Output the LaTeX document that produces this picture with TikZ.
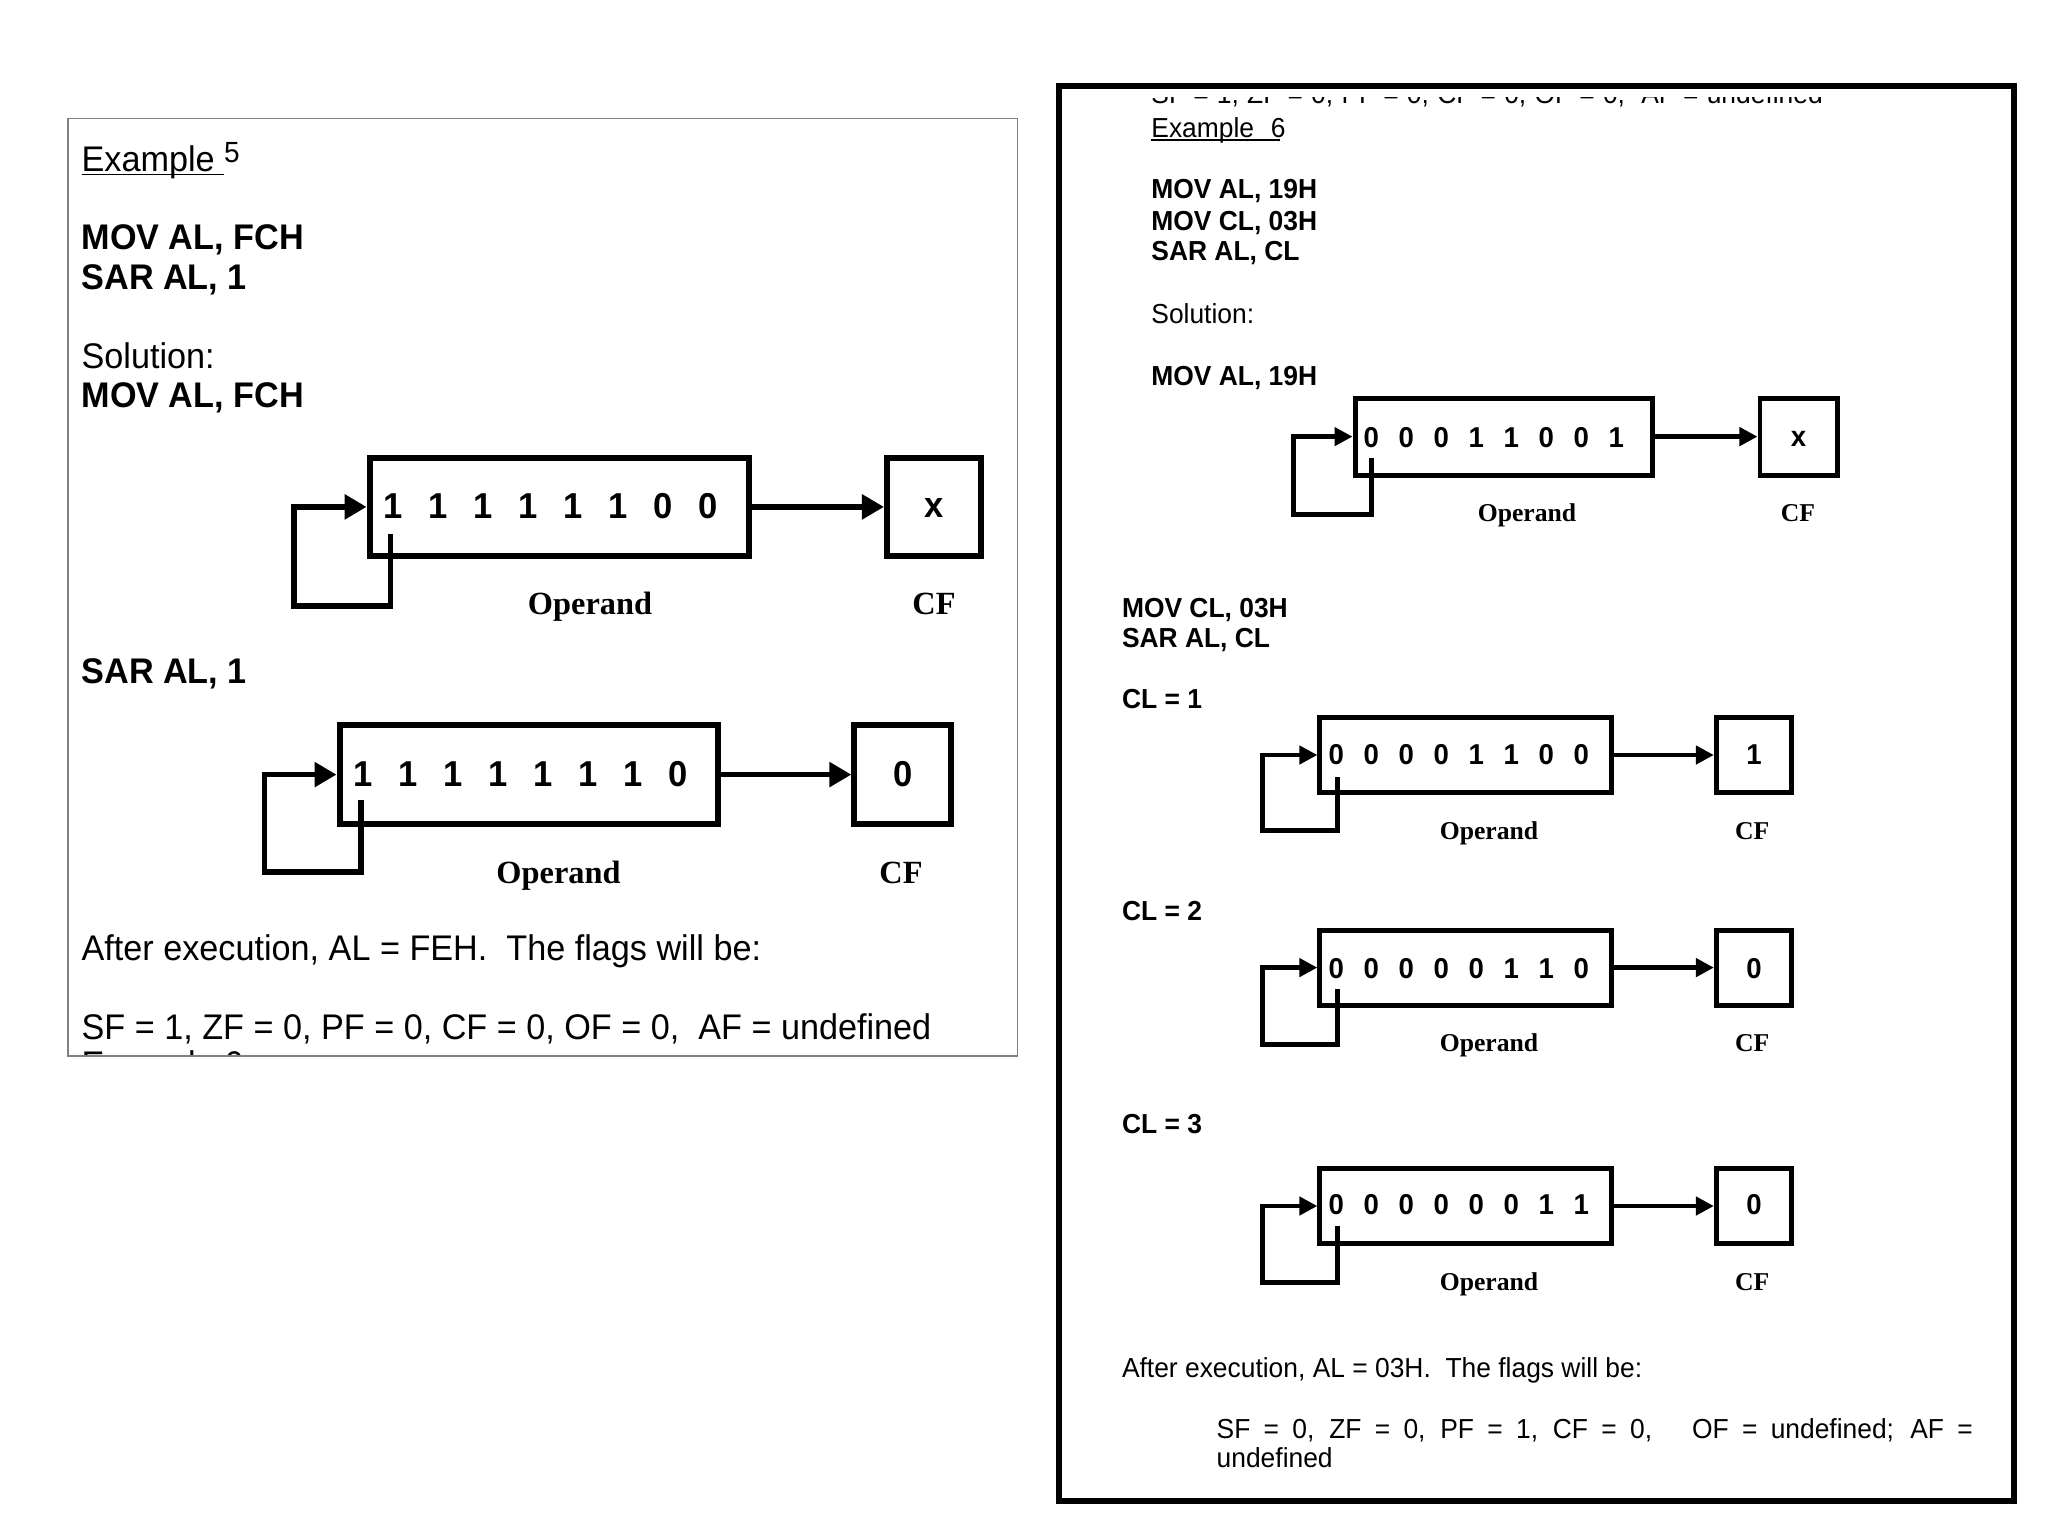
\documentclass[tikz,border=0pt]{standalone}
\usepackage{fontspec}
\setmainfont{Liberation Sans}[FakeStretch=0.96]
\newfontfamily\tnr{Liberation Serif}
\usetikzlibrary{arrows.meta}

\newcommand\fL{\fontsize{10.13pt}{12pt}\selectfont}
\newcommand\fR{\fontsize{7.82pt}{9.5pt}\selectfont}
\newcommand\fbL{\fontsize{10.24pt}{12pt}\selectfont\bfseries}
\newcommand\fbR{\fontsize{8.17pt}{10pt}\selectfont\bfseries}
\newcommand\bitsL[8]{\makebox[12.8pt]{#1}\makebox[12.8pt]{#2}\makebox[12.8pt]{#3}\makebox[12.8pt]{#4}\makebox[12.8pt]{#5}\makebox[12.8pt]{#6}\makebox[12.8pt]{#7}\makebox[12.8pt]{#8}}
\newcommand\bitsR[8]{\makebox[9.96pt]{#1}\makebox[9.96pt]{#2}\makebox[9.96pt]{#3}\makebox[9.96pt]{#4}\makebox[9.96pt]{#5}\makebox[9.96pt]{#6}\makebox[9.96pt]{#7}\makebox[9.96pt]{#8}}
\newcommand\myul[1]{\setbox0\hbox{#1}\rlap{\rule[-1.1pt]{\wd0}{0.42pt}}\box0}

\tikzset{
  txt/.style={anchor=base west, inner sep=0pt, outer sep=0pt},
  regL/.style={draw, line width=1.7pt, inner sep=0pt, minimum height=0.975cm},
  regR/.style={draw, line width=1.42pt, inner sep=0pt},
  bitL/.style={anchor=base west, inner sep=0pt, font=\fbL},
  bitR/.style={anchor=base west, inner sep=0pt, font=\fbR},
  cfvL/.style={anchor=base, inner sep=0pt, font=\fbL},
  cfvR/.style={anchor=base, inner sep=0pt, font=\fbR},
  lblL/.style={anchor=base, inner sep=0pt, font=\fontsize{9.2pt}{11pt}\selectfont\tnr\bfseries},
  lblR/.style={anchor=base, inner sep=0pt, font=\fontsize{7.3pt}{9pt}\selectfont\tnr\bfseries},
  conL/.style={line width=1.6pt, -{Triangle[length=0.22cm,width=0.24cm]}},
  conR/.style={line width=1.35pt, -{Triangle[length=0.18cm,width=0.18cm]}},
}

\begin{document}
\begin{tikzpicture}[x=0.01cm, y=-0.01cm]
\useasboundingbox (0,0) rectangle (2048,1536);

% ================= LEFT PANEL =================
\begin{scope}
  \clip (69,1000) rectangle (1016,1055.3);
  \node[txt] (lclip) at (81.6,1076) {\fL Example 6};
\end{scope}
\draw[black!50, line width=0.42pt] (68,118.5) rectangle (1017.5,1056);

\node[txt] (ex5) at (81.6,171.4) {\fL\myul{Example\ }\raisebox{2.4pt}{\fontsize{8.3pt}{10pt}\selectfont 5}};
\node[txt] (l1) at (81.6,249.8) {\fL\bfseries MOV AL, FCH};
\node[txt] (l2) at (81.6,289) {\fL\bfseries SAR AL, 1};
\node[txt] (l3) at (81.6,368.3) {\fL Solution:};
\node[txt] (l4) at (81.6,407.4) {\fL\bfseries MOV AL, FCH};

% diagram 1
\node[regL, minimum width=3.788cm] (op1) at (559.1,506.9) {};
\node[regL, minimum width=0.94cm] (cf1) at (934,506.9) {};
\node[bitL] (b1) at (369.7,518) {\bitsL 11111100};
\node[cfvL] (v1) at (934,517.5) {x};
\node[lblL] (o1) at (590,614.6) {Operand};
\node[lblL] (c1) at (934,614.6) {CF};
\draw[conL] (op1.east) -- (cf1.west);
\coordinate (s1) at (390.6,534);
\coordinate (k1) at (294,605.8);
\draw[conL] (s1) |- (k1) |- (op1.west);

\node[txt] (l5) at (81.6,683) {\fL\bfseries SAR AL, 1};

% diagram 2
\node[regL, minimum width=3.783cm, minimum height=0.985cm] (op2) at (528.8,774.6) {};
\node[regL, minimum width=0.966cm, minimum height=0.985cm] (cf2) at (902.7,774.6) {};
\node[bitL] (b2) at (339.6,786) {\bitsL 11111110};
\node[cfvL] (v2) at (902.7,786) {0};
\node[lblL] (o2) at (558.5,883) {Operand};
\node[lblL] (c2) at (901,883) {CF};
\draw[conL] (op2.east) -- (cf2.west);
\coordinate (s2) at (361.2,800);
\coordinate (k2) at (264.5,871.8);
\draw[conL] (s2) |- (k2) |- (op2.west);

\node[txt] (l6) at (81.6,960.5) {\fL After execution, AL = FEH.\ \ The flags will be:};
\node[txt] (l7) at (81.6,1039.8) {\fL SF = 1, ZF = 0, PF = 0, CF = 0, OF = 0,\ \ AF = undefined};

% ================= RIGHT PANEL =================
\begin{scope}
  \clip (1062,97.5) rectangle (2010,125);
  \node[txt] (rclip) at (1151.4,103) {\fR\makebox[190.9pt][s]{SF = 1, ZF = 0, PF = 0, CF = 0, OF = 0,\ \ AF = undefined}};
\end{scope}
\draw[line width=1.7pt] (1058.6,86.2) rectangle (2013.6,1500.6);

\node[txt] (ex6) at (1151.4,137) {\fR\rlap{\rule[-1.1pt]{36.7pt}{0.4pt}}\makebox[34pt][l]{Example}6};
\node[txt] (r1) at (1151.4,198.3) {\fR\bfseries MOV AL, 19H};
\node[txt] (r2) at (1151.4,230.2) {\fR\bfseries MOV CL, 03H};
\node[txt] (r3) at (1151.4,260.5) {\fR\bfseries SAR AL, CL};
\node[txt] (r4) at (1151.4,323.2) {\fR Solution:};
\node[txt] (r5) at (1151.4,385.4) {\fR\bfseries MOV AL, 19H};

% diagram R1
\node[regR, minimum width=2.972cm, minimum height=0.769cm] (op3) at (1503.7,436.6) {};
\node[regR, minimum width=0.77cm, minimum height=0.769cm] (cf3) at (1798.5,436.6) {};
\node[bitR] (b3) at (1353,447) {\bitsR 00011001};
\node[cfvR] (v3) at (1798.5,446.5) {x};
\node[lblR] (o3) at (1527,521.5) {Operand};
\node[lblR] (c3) at (1798,521.5) {CF};
\draw[conR] (op3.east) -- (cf3.west);
\coordinate (s3) at (1371.5,458);
\coordinate (k3) at (1293.8,514.2);
\draw[conR] (s3) |- (k3) |- (op3.west);

\node[txt] (r6) at (1122,617) {\fR\bfseries MOV CL, 03H};
\node[txt] (r7) at (1122,647.5) {\fR\bfseries SAR AL, CL};
\node[txt] (r8) at (1122,708.6) {\fR\bfseries CL = 1};

% diagram R2
\node[regR, minimum width=2.919cm, minimum height=0.75cm] (op4) at (1465.9,755) {};
\node[regR, minimum width=0.75cm, minimum height=0.75cm] (cf4) at (1753.9,755) {};
\node[bitR] (b4) at (1318,764) {\bitsR 00001100};
\node[cfvR] (v4) at (1753.9,764) {1};
\node[lblR] (o4) at (1489,839) {Operand};
\node[lblR] (c4) at (1752.3,839) {CF};
\draw[conR] (op4.east) -- (cf4.west);
\coordinate (s4) at (1337.5,777);
\coordinate (k4) at (1262.4,830.7);
\draw[conR] (s4) |- (k4) |- (op4.west);

\node[txt] (r9) at (1122,920.8) {\fR\bfseries CL = 2};

% diagram R3
\node[regR, minimum width=2.919cm, minimum height=0.75cm] (op5) at (1465.9,967.6) {};
\node[regR, minimum width=0.75cm, minimum height=0.75cm] (cf5) at (1753.9,967.6) {};
\node[bitR] (b5) at (1318,978) {\bitsR 00000110};
\node[cfvR] (v5) at (1753.9,978) {0};
\node[lblR] (o5) at (1489,1051) {Operand};
\node[lblR] (c5) at (1752.3,1051) {CF};
\draw[conR] (op5.east) -- (cf5.west);
\coordinate (s5) at (1337.5,989.4);
\coordinate (k5) at (1262.4,1044.7);
\draw[conR] (s5) |- (k5) |- (op5.west);

\node[txt] (r10) at (1122,1133.8) {\fR\bfseries CL = 3};

% diagram R4
\node[regR, minimum width=2.919cm, minimum height=0.75cm] (op6) at (1465.9,1206) {};
\node[regR, minimum width=0.75cm, minimum height=0.75cm] (cf6) at (1753.9,1206) {};
\node[bitR] (b6) at (1318,1214) {\bitsR 00000011};
\node[cfvR] (v6) at (1753.9,1214) {0};
\node[lblR] (o6) at (1489,1290) {Operand};
\node[lblR] (c6) at (1752.3,1290) {CF};
\draw[conR] (op6.east) -- (cf6.west);
\coordinate (s6) at (1337.5,1225.9);
\coordinate (k6) at (1262.4,1282.2);
\draw[conR] (s6) |- (k6) |- (op6.west);

\node[txt] (r11) at (1122,1377.7) {\fR After execution, AL = 03H.\ \ The flags will be:};
\node[txt] (r12) at (1216.7,1438.9) {\fR\makebox[215pt][s]{SF = 0, ZF = 0, PF = 1, CF = 0,\ \ \ OF = undefined; AF =}};
\node[txt] (r13) at (1216.7,1467) {\fR undefined};
\end{tikzpicture}
\end{document}
